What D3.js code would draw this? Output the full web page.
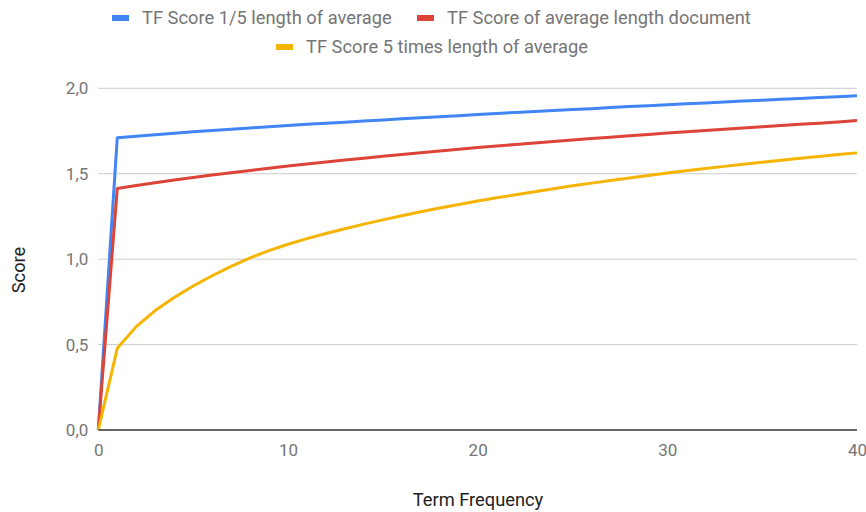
<!DOCTYPE html>
<html>
<head>
<meta charset="utf-8">
<script src="https://cdn.jsdelivr.net/npm/d3@7"></script>
<style>
  html, body { margin: 0; padding: 0; background: #fff; }
  svg { display: block; font-family: Roboto, "Noto Sans", sans-serif; }
</style>
</head>
<body>
<svg id="chart" width="866" height="512"></svg>
<script>
// Term frequency 0..40
const termFrequency = d3.range(0, 41);

const tfShortDoc = [
  0, 1.710, 1.719, 1.728, 1.737, 1.745, 1.753, 1.761, 1.768, 1.775,
  1.782, 1.789, 1.796, 1.802, 1.809, 1.815, 1.822, 1.828, 1.834, 1.840,
  1.847, 1.853, 1.859, 1.864, 1.870, 1.876, 1.881, 1.887, 1.893, 1.898,
  1.904, 1.909, 1.914, 1.920, 1.925, 1.930, 1.936, 1.941, 1.946, 1.951,
  1.956
];

const tfAverageDoc = [
  0, 1.414, 1.431, 1.447, 1.463, 1.478, 1.492, 1.506, 1.519, 1.532,
  1.545, 1.557, 1.569, 1.580, 1.591, 1.602, 1.613, 1.623, 1.633, 1.643,
  1.653, 1.662, 1.671, 1.680, 1.689, 1.698, 1.706, 1.714, 1.722, 1.730,
  1.738, 1.746, 1.753, 1.761, 1.768, 1.775, 1.782, 1.789, 1.796, 1.803,
  1.811
];

const tfLongDoc = [
  0, 0.478, 0.605, 0.699, 0.776, 0.843, 0.903, 0.958, 1.008, 1.050,
  1.087, 1.120, 1.150, 1.178, 1.205, 1.230, 1.254, 1.277, 1.299, 1.320,
  1.340, 1.359, 1.377, 1.395, 1.412, 1.429, 1.445, 1.460, 1.475, 1.490,
  1.504, 1.517, 1.530, 1.543, 1.555, 1.567, 1.579, 1.590, 1.601, 1.612,
  1.622
];

const seriesNames = [
  "TF Score 1/5 length of average",
  "TF Score of average length document",
  "TF Score 5 times length of average"
];
const seriesColors = ["#4285F4", "#DB4437", "#F4B400"];
const seriesValues = [tfShortDoc, tfAverageDoc, tfLongDoc];

const xTicks = [0, 10, 20, 30, 40];
const yTicks = [0, 0.5, 1.0, 1.5, 2.0];

const svg = d3.select("#chart");
const margin = { left: 98.3, right: 9, top: 88.3, bottom: 82 };
const W = 866, H = 512;

const x = d3.scaleLinear().domain([0, 40]).range([margin.left, W - margin.right]);
const y = d3.scaleLinear().domain([0, 2]).range([H - margin.bottom, margin.top]);

// Horizontal gridlines
svg.append("g")
  .selectAll("line")
  .data(yTicks.filter(t => t !== 0))
  .join("line")
  .attr("x1", x(0)).attr("x2", x(40))
  .attr("y1", d => y(d)).attr("y2", d => y(d))
  .attr("stroke", "#cccccc").attr("stroke-width", 1);

// Y axis labels (comma decimal separator)
const fmt = d => d3.format(".1f")(d).replace(".", ",");
const yAxis = d3.axisLeft(y).tickValues(yTicks).tickFormat(fmt).tickSize(0).tickPadding(10);
const gy = svg.append("g").attr("transform", `translate(${x(0)},0)`).call(yAxis);
gy.select(".domain").remove();
gy.selectAll("text").attr("font-size", 17).attr("fill", "#757575").attr("font-family", "Roboto");

// X axis labels
const xAxis = d3.axisBottom(x).tickValues(xTicks).tickFormat(d3.format("d")).tickSize(0).tickPadding(14);
const gx = svg.append("g").attr("transform", `translate(0,${y(0)})`).call(xAxis);
gx.select(".domain").remove();
gx.selectAll("text").attr("font-size", 17).attr("fill", "#757575").attr("font-family", "Roboto");

// Series lines
const line = d3.line()
  .x((d, i) => x(termFrequency[i]))
  .y(d => y(d));

svg.append("g")
  .selectAll("path")
  .data(seriesValues)
  .join("path")
  .attr("d", d => line(d))
  .attr("fill", "none")
  .attr("stroke", (d, i) => seriesColors[i])
  .attr("stroke-width", 3)
  .attr("stroke-linejoin", "round");

// Baseline at zero
svg.append("line")
  .attr("x1", x(0)).attr("x2", x(40))
  .attr("y1", y(0)).attr("y2", y(0))
  .attr("stroke", "#333333").attr("stroke-width", 1.5);

// Axis titles
svg.append("text")
  .attr("x", 478).attr("y", 506)
  .attr("text-anchor", "middle")
  .attr("font-size", 18.3).attr("fill", "#222")
  .text("Term Frequency");

svg.append("text")
  .attr("transform", "translate(25,270) rotate(-90)")
  .attr("text-anchor", "middle")
  .attr("font-size", 18.3).attr("fill", "#222")
  .text("Score");

// Legend
const legendItems = [
  { i: 0, sx: 112, tx: 142, y: 18 },
  { i: 1, sx: 417, tx: 447, y: 18 },
  { i: 2, sx: 276, tx: 306, y: 47 }
];
const lg = svg.append("g");
legendItems.forEach(item => {
  lg.append("rect")
    .attr("x", item.sx).attr("y", item.y - 3)
    .attr("width", 17).attr("height", 6)
    .attr("fill", seriesColors[item.i]);
  lg.append("text")
    .attr("x", item.tx).attr("y", item.y)
    .attr("dy", "0.35em")
    .attr("font-size", 18.3).attr("fill", "#757575")
    .text(seriesNames[item.i]);
});
</script>
</body>
</html>
